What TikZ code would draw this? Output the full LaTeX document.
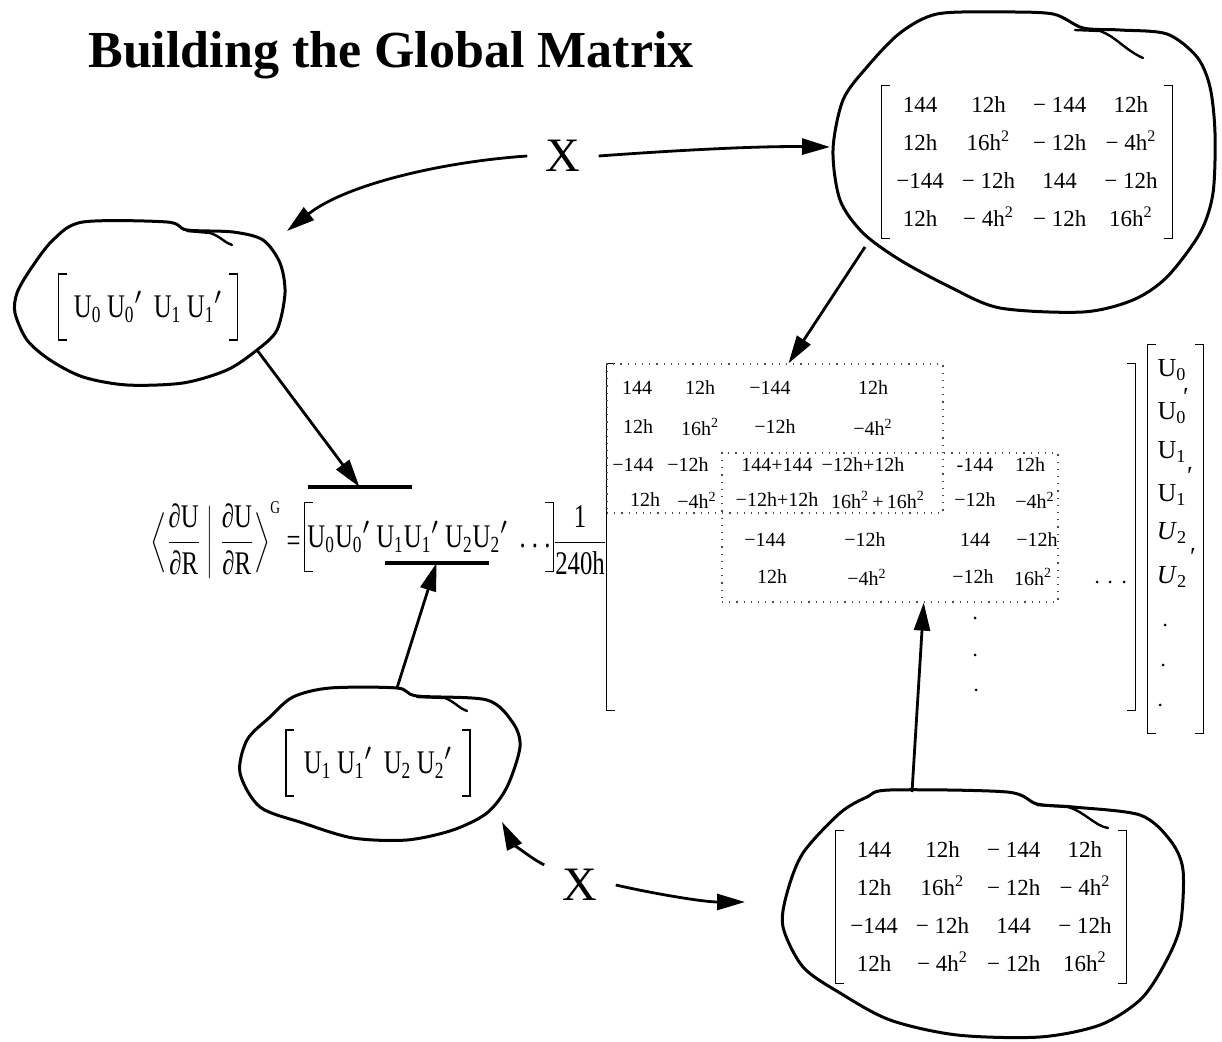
\documentclass[tikz,border=0pt]{standalone}
\usepackage{fontspec}
\setmainfont{Liberation Serif}
\newfontfamily\narrowserif[FakeStretch=0.75]{Liberation Serif}
\usetikzlibrary{arrows.meta,calc}
\setlength\tabcolsep{4.5pt}
\newcommand\sq{\textsuperscript{2}}

\begin{document}
\begin{tikzpicture}[
        x=0.5pt, y=-0.5pt,
        >={Triangle[length=14pt,width=8pt]},
        blob/.style={line width=1.5pt, line join=round},
        curl/.style={line width=1.2pt, line cap=round},
        arrow/.style={->, line width=1.4pt},
        bar/.style={line width=1.6pt},
        bracket/.style={line width=0.7pt},
        block/.style={
                draw=black!70,
                line width=0.6pt,
                dash pattern=on 0.6pt off 3pt,
                inner sep=0pt
            },
        title/.style={font=\fontsize{26}{30}\selectfont\bfseries, anchor=base},
        bigx/.style={font=\fontsize{24}{28}\selectfont, inner xsep=9pt, inner ysep=2pt},
        blobmat/.style={
                font=\fontsize{11.5}{19}\selectfont,
                inner sep=0pt,
                minimum width=145pt,
                minimum height=75pt
            },
        eqn/.style={font=\narrowserif\fontsize{16.5}{20}\selectfont, inner sep=0pt},
        rowvec/.style={eqn, minimum height=32.5pt},
        gmcell/.style={font=\fontsize{10}{12}\selectfont, inner sep=1pt},
        colcell/.style={font=\fontsize{13}{15}\selectfont, inner sep=0pt},
    ]
    \useasboundingbox (0,0) rectangle (1222,1042);

    % Title
    \node[title] (title) at (391,68) {Building the Global Matrix};

    % Element matrices in their blobs
    \node[blobmat] (mtr) at (1027,162) {\begin{tabular}{cccc}
            144  & 12h      & − 144 & 12h      \\
            12h  & 16h\sq   & − 12h & − 4h\sq  \\
            −144 & − 12h    & 144   & − 12h    \\
            12h  & − 4h\sq  & − 12h & 16h\sq
        \end{tabular}};
    \node[blobmat] (mbr) at (981,907) {\begin{tabular}{cccc}
            144  & 12h      & − 144 & 12h      \\
            12h  & 16h\sq   & − 12h & − 4h\sq  \\
            −144 & − 12h    & 144   & − 12h    \\
            12h  & − 4h\sq  & − 12h & 16h\sq
        \end{tabular}};
    \node[rowvec, minimum width=89pt] (vl) at (148,307)
    {U\textsubscript{0}\,U\textsubscript{0}$'$\ \,U\textsubscript{1}\,U\textsubscript{1}$'$};
    \node[rowvec, minimum width=91.5pt] (vbl) at (378,763)
    {U\textsubscript{1}\,U\textsubscript{1}$'$\ \,U\textsubscript{2}\,U\textsubscript{2}$'$};

    \draw[blob] plot[smooth cycle] coordinates {(900,33) (937,14) (1000,12) (1053,14) (1083,28)
            (1120,30) (1167,34) (1197,57) (1210,87) (1215,133) (1213,193) (1200,233) (1167,277)
            (1133,300) (1083,312) (1000,308) (950,287) (900,260) (863,233) (840,200) (833,150)
            (843,100) (867,67)};
    \draw[curl] (1075,30) -- (1100,31) .. controls (1115,36) and (1125,50) .. (1143,58);

    \draw[blob] plot[smooth cycle] coordinates {(53,240) (83,222) (167,222) (187,230) (233,232)
            (263,240) (280,263) (285,293) (277,330) (257,350) (227,370) (183,383) (127,385)
            (83,377) (50,360) (27,340) (15,313) (17,293) (30,270)};
    \draw[curl] (187,231) -- (210,233) .. controls (220,236) and (225,243) .. (232,245);

    \draw[blob] plot[smooth cycle] coordinates {(270,717) (293,697) (330,688) (397,688) (417,696)
            (487,700) (513,723) (520,747) (507,787) (487,813) (453,830) (407,840) (353,838)
            (303,823) (260,807) (240,773) (247,740)};
    \draw[curl] (417,697) -- (445,698) .. controls (455,702) and (460,709) .. (467,711);

    \draw[blob] plot[smooth cycle] coordinates {(803,853) (840,813) (867,797) (890,790) (1007,792)
            (1037,804) (1073,807) (1140,815) (1170,840) (1183,870) (1180,927) (1163,967)
            (1140,1000) (1100,1025) (1040,1037) (957,1035) (890,1020) (840,993) (803,967)
            (783,927) (787,893)};
    \draw[curl] (1037,805) -- (1068,807) .. controls (1085,812) and (1095,826) .. (1108,828);

    % Global equation
    \node[eqn, anchor=east] (lhs) at (301,540)
    {$\displaystyle\left\langle\frac{\mbox{∂U}}{\mbox{∂R}}\,\middle|\,
        \frac{\mbox{∂U}}{\mbox{∂R}}\right\rangle^{\mbox{\fontsize{9}{10}\selectfont G}}$\,=};
    \node[rowvec, minimum width=124pt, minimum height=34pt] (vrow) at (429,537)
    {U\textsubscript{0}U\textsubscript{0}$'$\ U\textsubscript{1}U\textsubscript{1}$'$\ U\textsubscript{2}U\textsubscript{2}$'$\ \,.\ .\ .};
    \node[eqn] (scale) at (580,540) {$\displaystyle\frac{\mbox{1}}{\mbox{240h}}$};

    \node[inner sep=0pt, minimum width=264pt, minimum height=173pt] (gm) at (871,537) {};
    \node[inner sep=0pt, minimum width=27.5pt, minimum height=194pt] (col) at (1175.5,539) {};

    % Brackets
    \foreach \m in {mtr,mbr,vl,vbl,vrow,gm,col}
    \draw[bracket] ([xshift=4pt]\m.north west) -| (\m.south west) -- ++(8,0)
    ([xshift=-4pt]\m.north east) -| (\m.south east) -- ++(-8,0);

    % Assembled global matrix
    \node[block, minimum width=168pt, minimum height=74.5pt] (blkA) at (775,438.5) {};
    \node[block, minimum width=168pt, minimum height=74.5pt] (blkB) at (890,527.5) {};
    \foreach \x/\y/\t [count=\i] in {
            637/388/144, 700/388/12h, 770/388/−144, 873/388/12h,
            638/427/12h, 700/427/16h\sq, 775/427/−12h, 873/427/−4h\sq,
            633/465/−144, 688/465/−12h, 777/465/144+144, 863/465/−12h+12h, 975/465/-144, 1030/465/12h,
            645/500/12h, 697/500/−4h\sq, 777/500/−12h+12h, 878/500/16h\sq\,+\,16h\sq, 975/500/−12h, 1035/500/−4h\sq,
            765/540/−144, 865/540/−12h, 975/540/144, 1037/540/−12h,
            772/577/12h, 867/577/−4h\sq, 973/577/−12h, 1033/577/16h\sq}
    \node[gmcell] (g\i) at (\x,\y) {\t};
    \foreach \x/\y in {975/618, 975/655, 976/690, 1097/582, 1110/582, 1124/582,
            1165/625, 1163/665, 1160/705}
    \fill (\x,\y) circle (1.5);

    % Column of unknowns
    \foreach \y/\t [count=\i] in {370/U\textsubscript{0}, 413/U\textsubscript{0}, 452/U\textsubscript{1},
            495/U\textsubscript{1}, 533/\textit{U}\textsubscript{2}, 577/\textit{U}\textsubscript{2}}
    \node[colcell] (c\i) at (1172,\y) {\t};
    \foreach \x/\y [count=\i] in {1186/397, 1190/476, 1193/557}
    \node[colcell] (p\i) at (\x,\y) {′};

    % Selection bars
    \coordinate (ovbar) at (359.5,487);
    \coordinate (unbar) at (436.5,563);
    \draw[bar] ([xshift=-26pt]ovbar) -- ([xshift=26pt]ovbar);
    \draw[bar] ([xshift=-26pt]unbar) -- ([xshift=26pt]unbar);

    % Multiplication marks
    \node[bigx] (xtop) at (563,156) {X};
    \node[bigx] (xbot) at (580,885) {X};

    % Arrow ends on the blobs
    \coordinate (trIn) at (830,147);
    \coordinate (trOut) at (865,247);
    \coordinate (lIn) at (287,231);
    \coordinate (lOut) at (257,350);
    \coordinate (blIn) at (502,822);
    \coordinate (blOut) at (397,688);
    \coordinate (brIn) at (745,902);
    \coordinate (brOut) at (912,792);

    % Arrows
    \draw[arrow] (xtop.west) .. controls (440,162) and (345,185) .. (lIn);
    \draw[arrow] (xtop.east) .. controls (680,150) and (760,146) .. (trIn);
    \draw[arrow] (xbot.north west) .. controls (530,858) and (512,842) .. (blIn);
    \draw[arrow] (xbot.east) .. controls (660,895) and (705,902) .. (brIn);
    \draw[arrow] (lOut) -- (ovbar);
    \draw[arrow] (blOut) -- (unbar);
    \draw[arrow] (trOut) -- ($(blkA.north west)!0.54!(blkA.north east)$);
    \draw[arrow] (brOut) -- ($(blkB.south west)!0.6!(blkB.south east)$);

\end{tikzpicture}
\end{document}
